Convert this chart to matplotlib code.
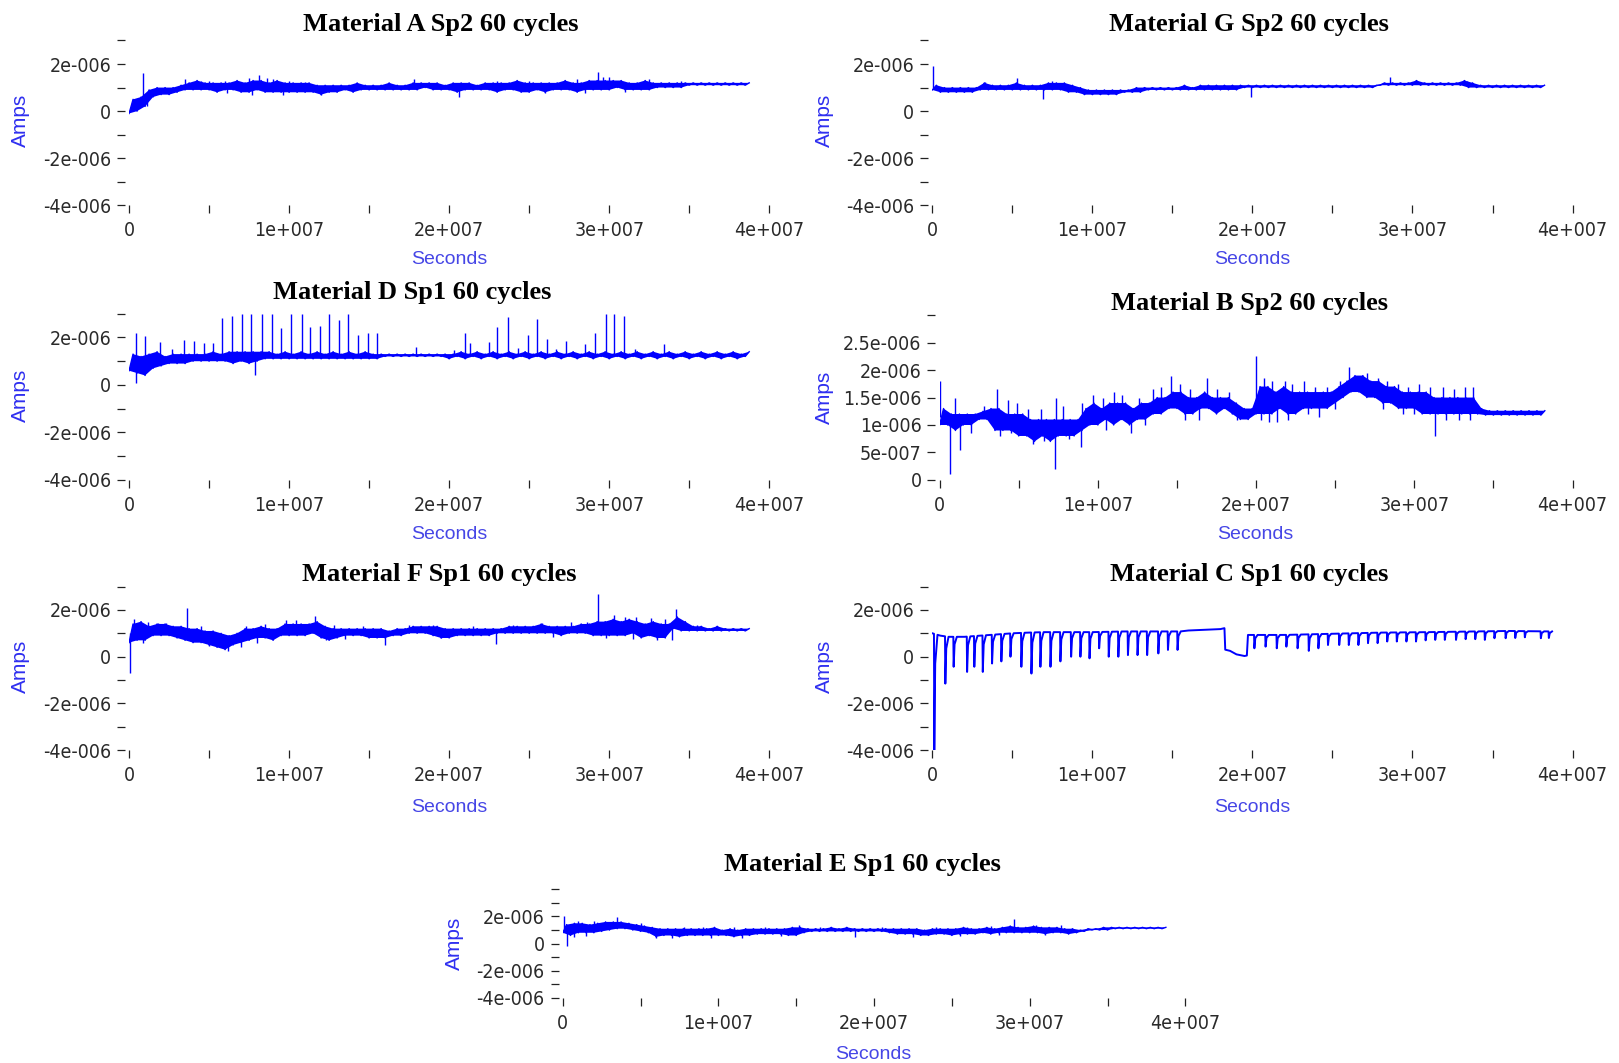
import numpy as np
import matplotlib
matplotlib.use("Agg")
import matplotlib.pyplot as plt
from matplotlib import font_manager
from matplotlib.font_manager import FontProperties

# ---------------------------------------------------------------------------
# Current traces.  The dense noise band of each trace is stored per 5e5 s bin
# as its lower / upper bound; isolated excursions are listed separately as
# (time in 1e6 s, value).  All currents are in units of 1e-7 A.
# ---------------------------------------------------------------------------
STEP = 5e5
UNIT = 1e-7
TUNIT = 1e6

a_lo = [-1, 0, 2, 6, 7, 7, 8, 9, 9, 9,
        9, 8, 9, 9, 8, 8, 9, 8, 8, 8,
        8, 8, 8, 8, 7, 8, 8, 9, 8, 9,
        9, 9, 9, 9, 9, 9, 9, 10, 9, 9,
        9, 8, 9, 9, 9, 9, 8, 9, 9, 8,
        8, 9, 8, 9, 9, 9, 8, 9, 9, 9,
        9, 10, 9, 9, 9, 9, 10, 10, 10, 10,
        11, 11, 11, 11, 11, 11, 11, 11]
a_hi = [5, 6, 9, 10, 10, 10, 11, 12, 13, 12,
        12, 12, 12, 13, 12, 13, 13, 12, 13, 12,
        12, 12, 12, 11, 11, 11, 11, 11, 12, 11,
        11, 11, 12, 11, 11, 12, 12, 12, 12, 11,
        12, 12, 12, 11, 12, 12, 12, 12, 13, 12,
        12, 12, 12, 12, 13, 12, 12, 13, 13, 13,
        13, 13, 12, 12, 13, 12, 12, 12, 12, 12,
        12, 12, 12, 12, 12, 12, 12, 12]
a_spike_t = [0.86, 1.15, 3.5, 4.5, 5.0, 6.0, 6.1, 7.5, 7.7, 8.1,
             8.6, 9.0, 9.6, 10.0, 11.0, 12.0, 17.8, 20.6, 23.0, 25.0,
             26.0, 28.0, 28.5, 29.3, 29.6, 30.0, 31.0, 32.5, 34.5]
a_spike_v = [16, 2, 13.5, 13, 13, 13, 7.5, 14, 7, 15.5,
             14, 13.5, 7, 13, 12.5, 7, 13.5, 6, 13, 13,
             7.5, 13.5, 7.5, 16.5, 14.5, 14.5, 8, 13.5, 13]

g_lo = [9, 8, 8, 8, 8, 8, 9, 9, 9, 9,
        9, 9, 9, 9, 9, 9, 9, 8, 8, 7,
        7, 7, 7, 7, 8, 8, 8, 9, 9, 9,
        9, 9, 9, 9, 9, 9, 9, 9, 9, 10,
        10, 10, 10, 10, 10, 10, 10, 10, 10, 10,
        10, 10, 10, 10, 10, 10, 11, 11, 11, 11,
        11, 11, 11, 11, 11, 11, 11, 10, 10, 10,
        10, 10, 10, 10, 10, 10, 10]
g_hi = [11, 10, 10, 10, 10, 10, 12, 11, 11, 11,
        12, 11, 11, 11, 12, 12, 12, 11, 10, 9,
        9, 9, 9, 9, 9, 10, 10, 10, 10, 10,
        10, 11, 10, 11, 11, 11, 11, 11, 11, 11,
        11, 11, 11, 11, 11, 11, 11, 11, 11, 11,
        11, 11, 11, 11, 11, 11, 12, 12, 12, 12,
        13, 12, 12, 12, 12, 12, 13, 12, 11, 11,
        11, 11, 11, 11, 11, 11, 11]
g_spike_t = [0.05, 3.3, 5.3, 6.9, 7.5, 19.9, 28.6, 33.4]
g_spike_v = [19, 12.5, 14, 5, 13, 6, 14.5, 13]

d_lo = [6, 5, 4, 7, 8, 9, 9, 9, 10, 10,
        10, 10, 10, 9, 10, 9, 10, 11, 11, 11,
        11, 11, 11, 11, 11, 11, 11, 11, 11, 11,
        11, 11, 12, 12, 12, 12, 12, 12, 12, 12,
        11, 12, 11, 12, 11, 12, 11, 12, 11, 12,
        11, 12, 11, 12, 11, 12, 11, 12, 11, 12,
        11, 12, 11, 12, 11, 12, 11, 12, 11, 12,
        11, 12, 11, 12, 11, 12, 11, 12]
d_hi = [13, 12, 13, 14, 12, 13, 13, 13, 13, 13,
        14, 13, 14, 14, 14, 14, 14, 14, 13, 14,
        13, 14, 13, 14, 13, 14, 13, 14, 13, 14,
        13, 13, 13, 13, 13, 13, 13, 13, 13, 13,
        13, 14, 13, 14, 13, 14, 13, 14, 13, 14,
        13, 14, 13, 14, 13, 14, 13, 14, 13, 14,
        13, 14, 13, 14, 13, 14, 13, 14, 13, 14,
        13, 14, 13, 14, 13, 14, 13, 14]
d_spike_t = [0.42, 0.42, 1.0, 1.94, 2.7, 3.44, 4.06, 4.69, 5.27, 5.83,
             6.46, 7.04, 7.6, 7.9, 8.29, 8.96, 9.5, 10.1, 10.8, 11.3,
             11.9, 12.5, 13.1, 13.7, 14.3, 14.9, 15.5, 17.9,
             20.3, 21.0, 21.3, 22.5, 23.0, 23.7, 24.3, 24.9, 25.5, 26.1,
             26.7, 27.3, 28.5, 29.1, 29.8, 30.3, 30.9, 31.6, 33.4]
d_spike_v = [22, 0.7, 20.5, 18, 15, 19, 18.7, 17.6, 17.6, 28,
             29, 30, 30, 4, 30, 30, 24, 30, 30, 24.5,
             25, 30, 27.5, 30, 21, 22, 22, 16,
             14.7, 21.8, 17.6, 18.3, 24.6, 28.8, 15.4, 21, 27.7, 19.3,
             15, 18.6, 17.4, 21.8, 30, 30, 29, 15.2, 17.4]

b_lo = [10, 10, 9, 10, 10, 11, 11, 9, 9, 9,
        8, 8, 7, 8, 7, 8, 8, 8, 9, 10,
        10, 11, 10, 11, 10, 11, 11, 12, 12, 13,
        13, 12, 12, 13, 13, 12, 13, 12, 11, 11,
        12, 12, 12, 13, 12, 12, 13, 13, 13, 13,
        14, 15, 16, 16, 15, 15, 14, 14, 13, 13,
        13, 12, 12, 12, 12, 12, 12, 12, 12, 11.8,
        11.8, 11.8, 11.8, 11.8, 11.8, 11.8, 11.8]
b_hi = [13, 12, 12, 12, 12, 12.5, 13, 13, 12, 12,
        12, 11, 11, 11, 11, 11, 11, 11, 13, 14,
        13, 14, 14, 14, 13, 14, 14, 15, 15, 16,
        16, 15, 15, 16, 15, 15, 15, 14, 13, 13,
        17, 17, 16, 17, 16, 16, 16, 16, 16, 16,
        17, 18, 19, 19, 18, 18, 17, 17, 16, 16,
        16, 16, 15, 15, 15, 15, 15, 15, 13, 12.6,
        12.6, 12.6, 12.6, 12.6, 12.6, 12.6, 12.6]
b_spike_t = [0.05, 1.0, 2.8, 3.6, 4.3, 4.9, 5.6, 6.4, 7.35, 7.8,
             9.0, 9.7, 10.3, 11.0, 11.5, 12.6, 13.5, 14.0, 14.6, 15.2,
             15.8, 16.9, 17.5, 18.3, 20.0, 20.5, 21.0, 21.8, 22.3, 23.0,
             23.7, 24.5, 25.3, 25.9, 26.4, 27.0, 27.7, 28.3, 29.0, 29.6,
             30.3, 31.0, 31.8, 32.5, 33.2, 33.7,
             0.63, 1.3, 2.0, 3.8, 4.5, 5.9, 6.6, 7.3, 8.2, 8.96,
             10.5, 12.1, 13.0, 15.5, 16.4, 18.8, 20.3, 20.8, 21.3, 22.0,
             23.3, 24.0, 25.0, 28.0, 29.3, 30.0, 31.3, 32.0, 32.8, 33.5]
b_spike_v = [18, 15, 13.5, 16.5, 14.5, 14, 13, 13, 15, 13.5,
             14, 15.5, 15, 16, 15.5, 15, 16.5, 17, 19, 17.5,
             16.5, 18.5, 16.5, 16, 22.5, 18.5, 18, 18, 17.5, 18,
             17, 17, 18, 20.5, 19, 19.5, 18.5, 18, 17.5, 17,
             17.5, 17, 17, 16.5, 17, 17,
             1, 5.5, 8.5, 8, 8.5, 6.5, 7, 2, 7.5, 6,
             9, 8.5, 10, 11, 11, 11, 11, 10.5, 10.5, 11,
             12, 11.5, 13, 13, 12, 12, 8, 11, 11, 11]

f_lo = [6, 7, 7, 9, 9, 9, 8, 7, 6, 6,
        5, 4, 3, 5, 6, 7, 8, 8, 7, 9,
        9, 9, 9, 10, 8, 7, 8, 9, 9, 9,
        8, 8, 8, 9, 9, 10, 10, 10, 9, 8,
        8, 9, 9, 9, 9, 9, 10, 10, 10, 10,
        10, 10, 10, 10, 9, 10, 10, 10, 9, 9,
        9, 9, 9, 10, 8, 9, 8, 8, 12, 11,
        11, 11, 11, 11, 11, 11, 11, 11]
f_hi = [14, 15, 13, 14, 14, 13, 13, 12, 12, 11,
        11, 10, 9, 10, 12, 12, 13, 12, 12, 14,
        14, 14, 14, 15, 13, 12, 12, 12, 12, 12,
        12, 12, 11, 12, 12, 13, 13, 13, 13, 12,
        12, 12, 12, 12, 12, 12, 12, 13, 13, 13,
        13, 14, 13, 13, 13, 13, 14, 14, 15, 15,
        16, 15, 16, 15, 14, 15, 14, 14, 17, 15,
        13, 13, 12, 13, 12, 12, 12, 12]
f_spike_t = [0.3, 1.2, 1.8, 2.3, 3.6, 4.5, 7.3, 8.5, 9.8, 10.4,
             11.6, 12.8, 14.6, 17.5, 19.0, 21.5, 24.0, 25.8, 27.6, 28.6,
             29.3, 30.3, 31.0, 31.7, 32.6, 33.5, 34.2, 35.5,
             0.05, 0.9, 5.0, 6.2, 7.0, 8.0, 12.3, 13.5, 16.0, 19.5,
             22.9, 26.5, 29.8, 31.5, 33.0, 33.9]
f_spike_v = [16, 15, 14.5, 14.5, 21, 13, 13, 14, 15.5, 15.5,
             17.5, 13.5, 13, 13.5, 13.5, 13, 13.5, 14.5, 15, 15,
             27, 18, 17, 17, 16.5, 16, 20.5, 13.5,
             -7, 6, 4.5, 2.5, 4, 6, 7, 7.5, 5, 8,
             5.5, 8.5, 8, 7.5, 7, 7]

# Material C: slowly varying baseline plus the periodic discharge dips
c_base_t = [0, 0.5, 1.0, 2.0, 3.0, 4.0, 5.0, 6.0, 7.0, 8.0,
            9.0, 10.0, 12.0, 14.0, 15.5, 16.0, 17.0, 18.0, 18.25, 18.3,
            18.6, 19.0, 19.5, 19.65, 19.72, 22.0, 25.0, 28.0, 31.0, 34.0,
            36.0, 38.6]
c_base_v = [10, 9, 8.5, 8.5, 9, 9.5, 10, 10.3, 10.5, 10.5,
            10.5, 10.5, 10.8, 10.8, 10.8, 11.2, 11.5, 11.8, 12.2, 3.0,
            2.5, 1.0, 0.3, 0.5, 9.3, 9.3, 9.8, 10.3, 10.5, 10.8,
            11.0, 10.8]
c_dip_t = [0.1, 0.79, 1.31, 2.15, 2.6, 3.13, 3.71, 4.29, 4.86, 5.54,
           6.17, 6.73, 7.36, 7.98, 8.65, 9.23, 9.8, 10.4, 11.0, 11.6,
           12.2, 12.8, 13.4, 14.1, 14.7, 15.3,
           20.1, 20.8, 21.5, 22.1, 22.8, 23.5, 24.1, 24.7, 25.4, 26.0,
           26.6, 27.2, 27.8, 28.4, 29.0, 29.6, 30.2, 30.8, 31.4, 32.0,
           32.7, 33.3, 33.9, 34.5, 35.1, 35.8, 36.4, 37.0, 38.0, 38.5]
c_dip_v = [-40, -11.5, -4.3, -6.5, -4.3, -6.5, -2.9, -2, 0, -4.3,
           -7.2, -4.3, -4.3, -2, 0, 0, -0.7, 3.6, 0, 0,
           0.7, 0.7, 0.7, 1.4, 2.9, 2.9,
           3.6, 4.3, 3.6, 4.3, 3.6, 2.5, 3.6, 5, 5, 5,
           5, 5.8, 5.8, 6.5, 6.5, 6.5, 6.5, 7, 7.2, 7.2,
           7.2, 7.5, 7.5, 7.2, 7.9, 7.9, 8, 8.3, 7.9, 8]

e_lo = [8, 6, 8, 8, 8, 9, 10, 11, 11, 10,
        9, 8, 5, 6, 6, 5, 6, 6, 6, 6,
        6, 6, 5, 6, 6, 7, 7, 7, 7, 6,
        6, 8, 9, 9, 9, 9, 9, 9, 9, 9,
        9, 9, 8, 7, 7, 7, 6, 6, 7, 7,
        6, 7, 7, 7, 8, 7, 8, 8, 8, 8,
        8, 8, 7, 8, 8, 7, 8, 9, 10, 10,
        10, 11, 11, 11, 11, 11, 11, 11]
e_hi = [14, 15, 15, 14, 15, 16, 16, 16, 15, 14,
        13, 12, 11, 11, 11, 11, 11, 11, 11, 12,
        10, 11, 10, 11, 11, 11, 11, 11, 11, 12,
        12, 11, 11, 11, 12, 11, 12, 11, 11, 11,
        11, 11, 11, 11, 11, 11, 10, 11, 11, 11,
        11, 12, 11, 11, 12, 11, 12, 13, 12, 12,
        13, 12, 12, 12, 11, 11, 10, 11, 11, 12,
        12, 12, 12, 12, 12, 12, 12, 12]
e_spike_t = [0.1, 1.0, 2.0, 3.5, 5.0, 7.8, 9.0, 11.0, 13.0, 15.2,
             16.5, 20.5, 24.0, 26.0, 27.5, 29.0, 30.4, 32.0,
             0.3, 0.7, 1.5, 6.0, 7.0, 9.5, 11.5, 14.0, 18.8, 22.5,
             25.5, 28.0, 31.0]
e_spike_v = [20, 16.5, 16.5, 19.5, 15, 12, 12, 12, 12, 13.5,
             12.5, 12, 12.5, 12.5, 13, 18, 13.5, 13.5,
             -2, 5, 5.5, 4, 4.5, 4.5, 4.5, 5.5, 5, 5,
             5.5, 6, 6]

titles = ["Material A Sp2 60 cycles", "Material G Sp2 60 cycles",
          "Material D Sp1 60 cycles", "Material B Sp2 60 cycles",
          "Material F Sp1 60 cycles", "Material C Sp1 60 cycles",
          "Material E Sp1 60 cycles"]

x_ticks = [0, 5e6, 1e7, 1.5e7, 2e7, 2.5e7, 3e7, 3.5e7, 4e7]
x_ticklabels = ["0", "", "1e+007", "", "2e+007", "", "3e+007", "", "4e+007"]
y_ticks_std = [-4e-6, -3e-6, -2e-6, -1e-6, 0, 1e-6, 2e-6, 3e-6]
y_labels_std = ["-4e-006", "", "-2e-006", "", "0", "", "2e-006", ""]
y_ticks_b = [0, 5e-7, 1e-6, 1.5e-6, 2e-6, 2.5e-6, 3e-6]
y_labels_b = ["0", "5e-007", "1e-006", "1.5e-006", "2e-006", "2.5e-006", ""]
y_ticks_e = [-4e-6, -3e-6, -2e-6, -1e-6, 0, 1e-6, 2e-6, 3e-6, 4e-6]
y_labels_e = ["-4e-006", "", "-2e-006", "", "0", "", "2e-006", "", ""]

# ---------------------------------------------------------------------------
W, H = 1568.0, 1030.0  # layout grid used for the positions below
LINE = "#0000ff"


def condensed_font():
    fl = font_manager.fontManager.ttflist
    for f in fl:
        if f.name == "Liberation Sans Narrow" and f.style == "normal" and f.weight in (400, "normal", "regular"):
            return FontProperties(fname=f.fname, size=15.5)
    for f in fl:
        if f.fname.endswith("DejaVuSansCondensed.ttf"):
            return FontProperties(fname=f.fname, size=14)
    return FontProperties(family="Liberation Sans", size=14)


TICK_FP = condensed_font()


def band_xy(lo, hi):
    lo = np.asarray(lo, float) * UNIT
    hi = np.asarray(hi, float) * UNIT
    n = len(lo)
    t = np.empty(2 * n)
    y = np.empty(2 * n)
    t[0::2] = np.arange(n) * STEP
    t[1::2] = np.arange(n) * STEP + STEP / 2
    y[0::2] = lo
    y[1::2] = hi
    return t, y


def draw_trace(ax, lo, hi, spike_t=(), spike_v=()):
    t, y = band_xy(lo, hi)
    # solid noise band between the bin bounds, with the zig-zag edge on top
    px = np.concatenate([t[1::2], t[0::2][::-1]])
    py = np.concatenate([y[1::2], y[0::2][::-1]])
    ax.fill(px, py, color=LINE, lw=0)
    ax.plot(t, y, color=LINE, lw=1.0)
    if len(spike_t):
        st = np.asarray(spike_t, float) * TUNIT
        mid = (np.interp(st, t[0::2], y[0::2]) + np.interp(st, t[1::2], y[1::2])) / 2
        ax.vlines(st, mid, np.asarray(spike_v, float) * UNIT, color=LINE, lw=1.0)


def dip_xy(bt, bv, dt, dv, width=2.2e5):
    bt = np.asarray(bt, float) * TUNIT
    bv = np.asarray(bv, float) * UNIT
    dt = np.asarray(dt, float) * TUNIT
    dv = np.asarray(dv, float) * UNIT
    pts = [(t, v) for t, v in zip(bt, bv)
           if not np.any((t >= dt) & (t <= dt + width))]
    for d, m in zip(dt, dv):
        b0 = np.interp(d, bt, bv)
        b1 = np.interp(d + width, bt, bv)
        pts += [(d, b0), (d + 2e4, m),
                (d + 0.35 * width, m + 0.75 * (b1 - m)), (d + width, b1)]
    pts.sort()
    arr = np.array(pts)
    return arr[:, 0], arr[:, 1]


fig = plt.figure(figsize=(16.19, 10.63), dpi=100)
fig.patch.set_facecolor("white")


def make_axes(x0, x1, ytop, ybot, ylim, yticks, ylabels):
    ax = fig.add_axes([x0 / W, 1 - ybot / H, (x1 - x0) / W, (ybot - ytop) / H])
    ax.set_xlim(0, 4e7)
    ax.set_ylim(*ylim)
    for s in ax.spines.values():
        s.set_color("none")
    ax.spines["left"].set_position(("outward", 3))
    ax.set_xticks(x_ticks)
    ax.set_xticklabels(x_ticklabels)
    ax.set_yticks(yticks)
    ax.set_yticklabels(ylabels)
    ax.tick_params(direction="out", length=6, width=0.9, color="#222222",
                   labelcolor="#2a2a2a")
    ax.tick_params(axis="x", pad=5.5)
    ax.tick_params(axis="y", pad=4)
    for lab in ax.get_xticklabels() + ax.get_yticklabels():
        lab.set_fontproperties(TICK_FP)
    ax.patch.set_alpha(0)
    return ax


def decorate(title, tx, ty, ax_cx, sec_y, amps_x, amps_y):
    fig.text(tx / W, 1 - ty / H, title, ha="center", va="baseline",
             fontsize=19, fontweight="bold", family="Liberation Serif")
    fig.text(ax_cx / W, 1 - sec_y / H, "Seconds", ha="center", va="center",
             fontsize=14, color="#4646e6", family="Liberation Sans")
    fig.text(amps_x / W, 1 - amps_y / H, "Amps", ha="center", va="center",
             rotation=90, fontsize=15, color="#2f2ff0", family="Liberation Sans")


std_lim = (-4e-6, 3e-6)

# Material A
ax = make_axes(125, 745, 39.2, 199, std_lim, y_ticks_std, y_labels_std)
draw_trace(ax, a_lo, a_hi, a_spike_t, a_spike_v)
decorate(titles[0], 427, 30, 435, 251, 20, 117)

# Material G
ax = make_axes(903, 1523, 39.2, 199, std_lim, y_ticks_std, y_labels_std)
draw_trace(ax, g_lo, g_hi, g_spike_t, g_spike_v)
decorate(titles[1], 1210, 30, 1213, 251, 798, 117)

# Material D
ax = make_axes(125, 745, 304, 465, std_lim, y_ticks_std, y_labels_std)
draw_trace(ax, d_lo, d_hi, d_spike_t, d_spike_v)
decorate(titles[2], 399, 290, 435, 518, 20, 383)

# Material B
ax = make_axes(910, 1523, 305.4, 465, (0, 3e-6), y_ticks_b, y_labels_b)
draw_trace(ax, b_lo, b_hi, b_spike_t, b_spike_v)
decorate(titles[3], 1210, 300, 1216, 518, 798, 385)

# Material F
ax = make_axes(125, 745, 568.3, 727, std_lim, y_ticks_std, y_labels_std)
draw_trace(ax, f_lo, f_hi, f_spike_t, f_spike_v)
decorate(titles[4], 425, 563, 435, 782, 20, 646)

# Material C
ax = make_axes(903, 1523, 568.3, 727, std_lim, y_ticks_std, y_labels_std)
ax.plot(*dip_xy(c_base_t, c_base_v, c_dip_t, c_dip_v), color=LINE, lw=1.4)
decorate(titles[5], 1210, 563, 1213, 782, 798, 646)

# Material E
ax = make_axes(545, 1148, 861.7, 967, (-4e-6, 4e-6), y_ticks_e, y_labels_e)
draw_trace(ax, e_lo, e_hi, e_spike_t, e_spike_v)
decorate(titles[6], 835, 844, 846, 1022, 440, 914)

fig.savefig("out.png", dpi=100, facecolor="white")
